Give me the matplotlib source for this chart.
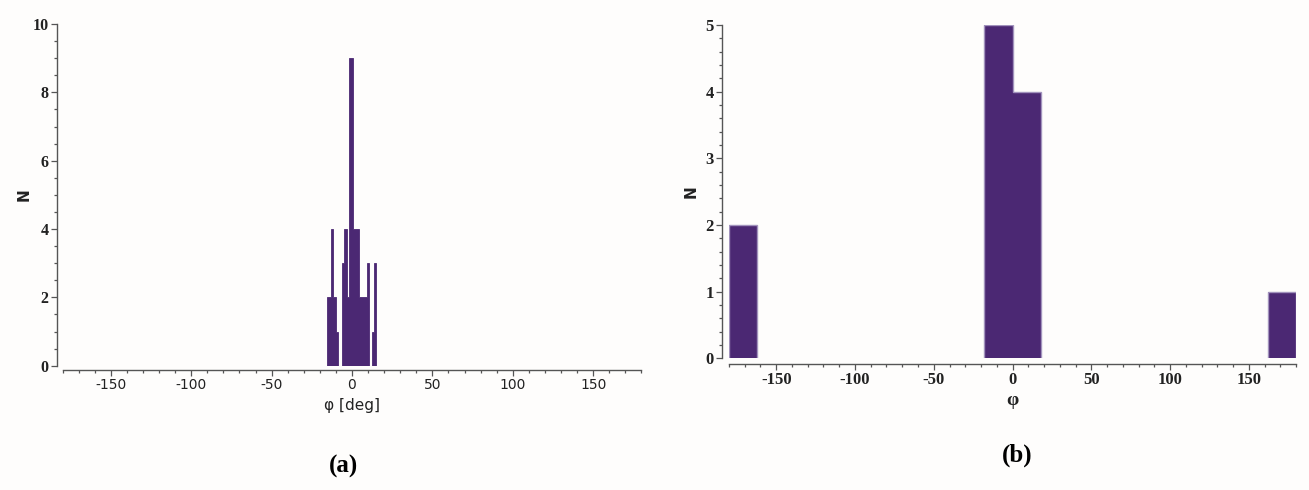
import matplotlib
matplotlib.use("Agg")
import matplotlib.pyplot as plt
import numpy as np
from matplotlib.ticker import MultipleLocator

plt.rcParams["axes.unicode_minus"] = False

# ---- data ----
# (a) fine histogram of phi [deg]
a_edges = [-15.7, -12.9, -12.0, -10.0, -8.9, -6.4, -5.2, -3.3, -2.1, 0.8,
           4.4, 9.1, 10.6, 12.6, 13.4, 14.9]
a_counts = [2, 4, 2, 1, 0, 3, 4, 2, 9, 4, 2, 3, 0, 1, 3]
a_xticks = [-150, -100, -50, 0, 50, 100, 150]
a_yticks = [0, 2, 4, 6, 8, 10]

# (b) coarse histogram of phi (18 deg bins)
b_edges = list(range(-180, 181, 18))
b_counts = [2, 0, 0, 0, 0, 0, 0, 0, 0, 5, 4, 0, 0, 0, 0, 0, 0, 0, 0, 1]
b_xticks = [-150, -100, -50, 0, 50, 100, 150]
b_yticks = [0, 1, 2, 3, 4, 5]

FACE = "#4b2873"
EDGE = "#a293bd"
SPINE = "#555555"
BG = "#fefdfc"

fig = plt.figure(figsize=(13.09, 4.90), dpi=100, facecolor=BG)

def style(ax, xoff, yoff):
    ax.set_facecolor(BG)
    for s in ("top", "right"):
        ax.spines[s].set_visible(False)
    ax.spines["left"].set_position(("outward", yoff))
    ax.spines["bottom"].set_position(("outward", xoff))
    for s in ("left", "bottom"):
        ax.spines[s].set_color(SPINE)
        ax.spines[s].set_linewidth(1.0)
    ax.tick_params(axis="both", which="major", direction="out", length=4,
                   width=0.9, color=SPINE, pad=2)
    ax.tick_params(axis="both", which="minor", direction="out", length=2.5,
                   width=0.9, color=SPINE)

def nonzero_runs(counts, edges):
    # split histogram into contiguous non-empty runs so each is outlined once
    runs, cur_c, cur_e = [], [], []
    for i, c in enumerate(counts):
        if c > 0:
            if not cur_c:
                cur_e = [edges[i]]
            cur_c.append(c)
            cur_e.append(edges[i + 1])
        elif cur_c:
            runs.append((cur_c, cur_e))
            cur_c, cur_e = [], []
    if cur_c:
        runs.append((cur_c, cur_e))
    return runs

# ---- panel (a) ----
axa = fig.add_axes([0.0478, 0.2537, 0.4422, 0.6973])
axa.stairs(a_counts, a_edges, fill=True, facecolor=FACE, edgecolor=FACE,
           linewidth=0.6)
axa.set_xlim(-180, 180)
axa.set_ylim(0, 10)
style(axa, 3.0, 4.0)
axa.set_xticks(a_xticks)
axa.set_yticks(a_yticks)
axa.xaxis.set_minor_locator(MultipleLocator(10))
axa.yaxis.set_minor_locator(MultipleLocator(0.5))
for lab in axa.get_xticklabels():
    lab.set_fontfamily("DejaVu Sans")
    lab.set_fontsize(10)
    lab.set_color("#222222")
for lab in axa.get_yticklabels():
    lab.set_fontfamily("Liberation Serif")
    lab.set_fontweight("bold")
    lab.set_fontsize(11.5)
    lab.set_color("#222222")
axa.set_xlabel("φ [deg]", fontsize=11, family="DejaVu Sans", color="#222222",
               labelpad=4)
axa.set_ylabel("N", fontsize=11, family="DejaVu Sans", fontweight="bold",
               color="#222222", labelpad=1)

# ---- panel (b) ----
axb = fig.add_axes([0.5569, 0.2688, 0.4332, 0.6802])
for cnts, edg in nonzero_runs(b_counts, b_edges):
    axb.stairs(cnts, edg, fill=True, facecolor=FACE, edgecolor="none")
    axb.stairs(cnts, edg, fill=False, edgecolor=EDGE, linewidth=1.0,
               baseline=0)
axb.set_xlim(-180, 180)
axb.set_ylim(0, 5)
style(axb, 4.0, 5.0)
axb.set_xticks(b_xticks)
axb.set_yticks(b_yticks)
axb.xaxis.set_minor_locator(MultipleLocator(10))
axb.yaxis.set_minor_locator(MultipleLocator(0.2))
for lab in axb.get_xticklabels() + axb.get_yticklabels():
    lab.set_fontfamily("Liberation Serif")
    lab.set_fontweight("bold")
    lab.set_fontsize(12)
    lab.set_color("#222222")
axb.set_xlabel("φ", fontsize=14, family="Liberation Serif", fontweight="bold",
               color="#222222", labelpad=3)
axb.set_ylabel("N", fontsize=11, family="DejaVu Sans", fontweight="bold",
               color="#222222", labelpad=5)

# panel labels
fig.text(343 / 1309, 1 - 466 / 490, "(a)", ha="center", va="center",
         fontsize=18, fontweight="bold", family="Liberation Serif")
fig.text(1017 / 1309, 1 - 455 / 490, "(b)", ha="center", va="center",
         fontsize=18, fontweight="bold", family="Liberation Serif")

fig.savefig("out.png", dpi=100, facecolor=BG)
